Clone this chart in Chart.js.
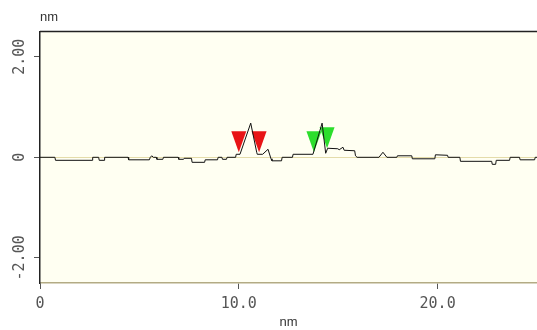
<!DOCTYPE html>
<html>
<head>
<meta charset="utf-8">
<script src="https://cdn.jsdelivr.net/npm/chart.js@4"></script>
<style>
  body { margin: 0; background: #ffffff; }
</style>
</head>
<body>
<canvas id="profile-chart" width="537" height="330"></canvas>
<script>
const profile = document.getElementById('profile-chart').getContext('2d');

// section profile, position (nm) / height (nm)
let profileX = [0, 0.75, 0.78, 2.62, 2.65, 2.95, 2.98, 3.22, 3.25, 4.43, 4.46, 5.5, 5.55, 5.62, 5.7,
    5.85, 5.88, 6.18, 6.21, 6.95, 6.98, 7.22, 7.25, 7.62, 7.65, 8.28, 8.31, 8.93, 8.96, 9.15,
    9.18, 9.38, 9.41, 9.84, 9.87, 10.06, 10.6, 10.9, 10.93, 11.2, 11.47, 11.62, 11.67, 12.15, 12.18,
    12.7, 12.73, 13.73, 14.19, 14.37, 14.47, 14.98, 15.05, 15.24, 15.3, 15.83, 15.87, 15.95, 17.05, 17.25,
    17.45, 17.95, 17.98, 18.7, 18.73, 19.86, 19.89, 20.5, 20.53, 21.12, 21.15, 22.72, 22.75, 22.92, 22.95,
    23.62, 23.65, 24.12, 24.15, 24.88, 24.91, 25];
let profileY = [0, 0, -0.06, -0.06, 0, 0, -0.06, -0.06, 0, 0, -0.05, -0.05, 0, 0.03, 0,
    0, -0.04, -0.04, 0, 0, -0.04, -0.04, -0.02, -0.02, -0.1, -0.1, -0.05, -0.05, 0, 0,
    -0.04, -0.04, 0, 0, 0.06, 0.06, 0.68, 0.1, 0.06, 0.06, 0.16, -0.03, -0.07, -0.07, 0,
    0, 0.06, 0.06, 0.68, 0.08, 0.18, 0.17, 0.15, 0.2, 0.14, 0.13, 0.03, 0, 0, 0.1,
    0, 0, 0.03, 0.03, -0.03, -0.03, 0.05, 0.04, 0, 0, -0.08, -0.08, -0.14, -0.14, -0.06,
    -0.06, 0, 0, -0.05, -0.05, 0, 0];

// cursor pairs (tip position)
let redCursorX = [10.0, 11.02];
let redCursorY = [0.1, 0.1];
let greenCursorX = [13.78, 14.44];
let greenCursorY = [0.1, 0.18];

let xTicks = [0, 10, 20];
let xTickLabels = ['0', '10.0', '20.0'];
let yTicks = [-2, 0, 2];
let yTickLabels = ['-2.00', '0', '2.00'];

const tickFont = { family: 'DejaVu Sans Mono', size: 15 };
const unitFont = { family: 'Liberation Sans', size: 13, weight: 'normal' };

// ivory plot area with a dark top edge
const plotFrame = {
    id: 'plotFrame',
    beforeDraw(chart) {
        const { ctx, chartArea: a } = chart;
        ctx.save();
        ctx.fillStyle = '#fffff2';
        ctx.fillRect(a.left, a.top, a.right - a.left, a.bottom - a.top);
        ctx.restore();
    },
    afterDraw(chart) {
        const { ctx, chartArea: a } = chart;
        ctx.save();
        ctx.strokeStyle = '#222222';
        ctx.lineWidth = 1.5;
        ctx.beginPath();
        ctx.moveTo(a.left, a.top);
        ctx.lineTo(a.right, a.top);
        ctx.stroke();
        ctx.restore();
    }
};

// downward triangles marking the cursor positions
const cursors = {
    id: 'cursors',
    beforeDatasetsDraw(chart) {
        const { ctx, scales } = chart;
        const w = 15, h = 21;
        const draw = (xs, ys, color) => {
            ctx.fillStyle = color;
            xs.forEach((v, i) => {
                const px = scales.x.getPixelForValue(v);
                const py = scales.y.getPixelForValue(ys[i]);
                ctx.beginPath();
                ctx.moveTo(px, py);
                ctx.lineTo(px - w / 2, py - h);
                ctx.lineTo(px + w / 2, py - h);
                ctx.closePath();
                ctx.fill();
            });
        };
        ctx.save();
        draw(redCursorX, redCursorY, 'rgb(232, 20, 22)');
        draw(greenCursorX, greenCursorY, 'rgb(44, 222, 44)');
        ctx.restore();
    }
};

let profileChart = new Chart(profile, {
    type: 'line',
    data: {
        datasets: [{
            data: profileX.map((x, i) => ({ x: x, y: profileY[i] })),
            borderColor: '#111111',
            borderWidth: 1,
            pointRadius: 0,
            tension: 0
        }]
    },
    options: {
        responsive: false,
        animation: false,
        devicePixelRatio: 1,
        layout: {
            padding: { top: 0, left: 0, right: 0, bottom: 0 }
        },
        scales: {
            x: {
                type: 'linear',
                min: 0,
                max: 25,
                afterBuildTicks: s => { s.ticks = xTicks.map(v => ({ value: v })); },
                afterFit: s => { s.height = 47; },
                ticks: {
                    font: tickFont,
                    color: '#555555',
                    padding: 6,
                    maxRotation: 0,
                    callback: (v, i) => xTickLabels[i]
                },
                grid: {
                    drawOnChartArea: false,
                    tickLength: 6,
                    tickColor: '#555555'
                },
                border: { color: '#b3ab84', width: 1.5 },
                title: {
                    display: true,
                    text: 'nm',
                    font: unitFont,
                    color: '#333333',
                    padding: { top: 0, bottom: 0 }
                }
            },
            y: {
                min: -2.5,
                max: 2.5,
                afterBuildTicks: s => { s.ticks = yTicks.map(v => ({ value: v })); },
                afterFit: s => { s.width = 40; },
                ticks: {
                    font: tickFont,
                    color: '#555555',
                    minRotation: 90,
                    maxRotation: 90,
                    crossAlign: 'center',
                    padding: -9,
                    callback: (v, i) => yTickLabels[i]
                },
                grid: {
                    color: c => (c.tick && c.tick.value === 0) ? '#e4dcaa' : 'rgba(0,0,0,0)',
                    tickColor: '#555555',
                    tickLength: 6
                },
                border: { color: '#222222', width: 1.5 }
            }
        },
        plugins: {
            legend: { display: false },
            tooltip: { enabled: false },
            title: {
                display: true,
                text: 'nm',
                align: 'start',
                fullSize: false,
                font: unitFont,
                color: '#333333',
                padding: { top: 10, bottom: 6 }
            }
        }
    },
    plugins: [plotFrame, cursors]
});
</script>
</body>
</html>
